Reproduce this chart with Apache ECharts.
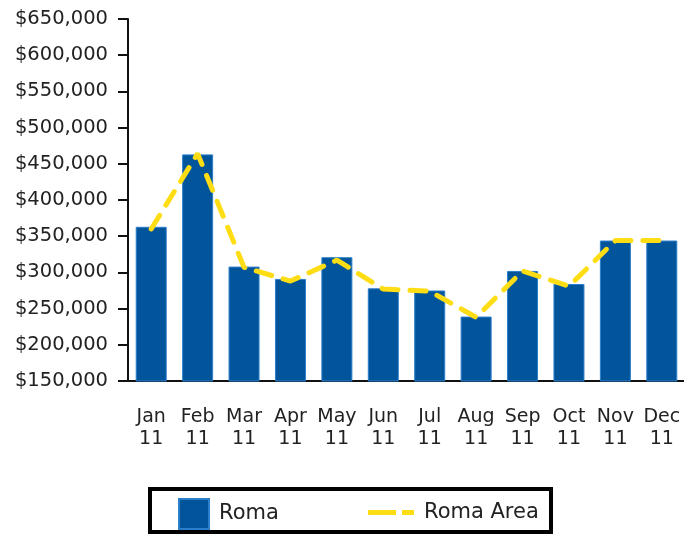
<!DOCTYPE html>
<html>
<head>
<meta charset="utf-8">
<script src="https://cdn.jsdelivr.net/npm/echarts@6/dist/echarts.min.js"></script>
<style>
  html, body { margin: 0; padding: 0; background: #fff; }
  #chart { width: 684px; height: 538px; }
</style>
</head>
<body>
<div id="chart"></div>
<script>
// 数据
var months = ['Jan\n11', 'Feb\n11', 'Mar\n11', 'Apr\n11', 'May\n11', 'Jun\n11',
              'Jul\n11', 'Aug\n11', 'Sep\n11', 'Oct\n11', 'Nov\n11', 'Dec\n11'];
var roma = [363000, 463000, 308000, 291000, 321000, 278000,
            275000, 239000, 302000, 284000, 344000, 344000];
var romaArea = [360000, 464000, 307000, 288000, 317000, 277000,
                274000, 238000, 302000, 281000, 344000, 344000];

var myChart = echarts.init(document.getElementById('chart'));

var font = 'DejaVu Sans';
var legendText = { fontFamily: font, fontSize: 21, color: '#222', padding: [0, 0, 0, 5] };

var option = {
    animation: false,
    grid: {
        left: 128,
        top: 19,
        right: -1,
        bottom: 157,
        containLabel: false,
        outerBoundsMode: 'none'
    },
    // 图例外框
    graphic: [{
        type: 'rect',
        shape: { x: 150, y: 489, width: 401, height: 43 },
        style: { fill: 'none', stroke: '#000', lineWidth: 4 },
        z: 0
    }],
    legend: [
        {
            left: 178,
            top: 498,
            padding: 0,
            itemWidth: 30,
            itemHeight: 30,
            textStyle: legendText,
            data: [{ name: 'Roma', icon: 'rect' }]
        },
        {
            left: 368,
            top: 502,
            padding: 0,
            itemWidth: 46,
            itemHeight: 30,
            textStyle: legendText,
            data: [{ name: 'Roma Area', icon: 'path://M0,0h28v5h-28z M34,0h12v5h-12z' }]
        }
    ],
    xAxis: {
        type: 'category',
        data: months,
        axisLine: { lineStyle: { color: '#111', width: 2 } },
        axisTick: { alignWithLabel: true, length: 10, lineStyle: { color: '#111', width: 2 } },
        axisLabel: {
            interval: 0,
            color: '#222',
            fontFamily: font,
            fontSize: 19,
            lineHeight: 22,
            margin: 25
        }
    },
    yAxis: {
        type: 'value',
        min: 150000,
        max: 650000,
        interval: 50000,
        splitLine: { show: false },
        axisLine: { show: true, lineStyle: { color: '#111', width: 2 } },
        axisTick: { show: true, length: 10, lineStyle: { color: '#111', width: 2 } },
        axisLabel: {
            color: '#222',
            fontFamily: font,
            fontSize: 19.5,
            margin: 20,
            formatter: function (v) {
                return '$' + v.toLocaleString('en-US');
            }
        }
    },
    series: [
        {
            name: 'Roma',
            type: 'bar',
            data: roma,
            barWidth: 31,
            itemStyle: {
                color: '#03559b',
                borderColor: '#2b7fcb',
                borderWidth: 1
            }
        },
        {
            name: 'Roma Area',
            type: 'line',
            data: romaArea,
            symbol: 'none',
            z: 3,
            lineStyle: {
                color: '#ffdd15',
                width: 5,
                type: [16, 12],
                cap: 'round'
            },
            itemStyle: { color: '#ffdd15' }
        }
    ]
};

myChart.setOption(option);
</script>
</body>
</html>
